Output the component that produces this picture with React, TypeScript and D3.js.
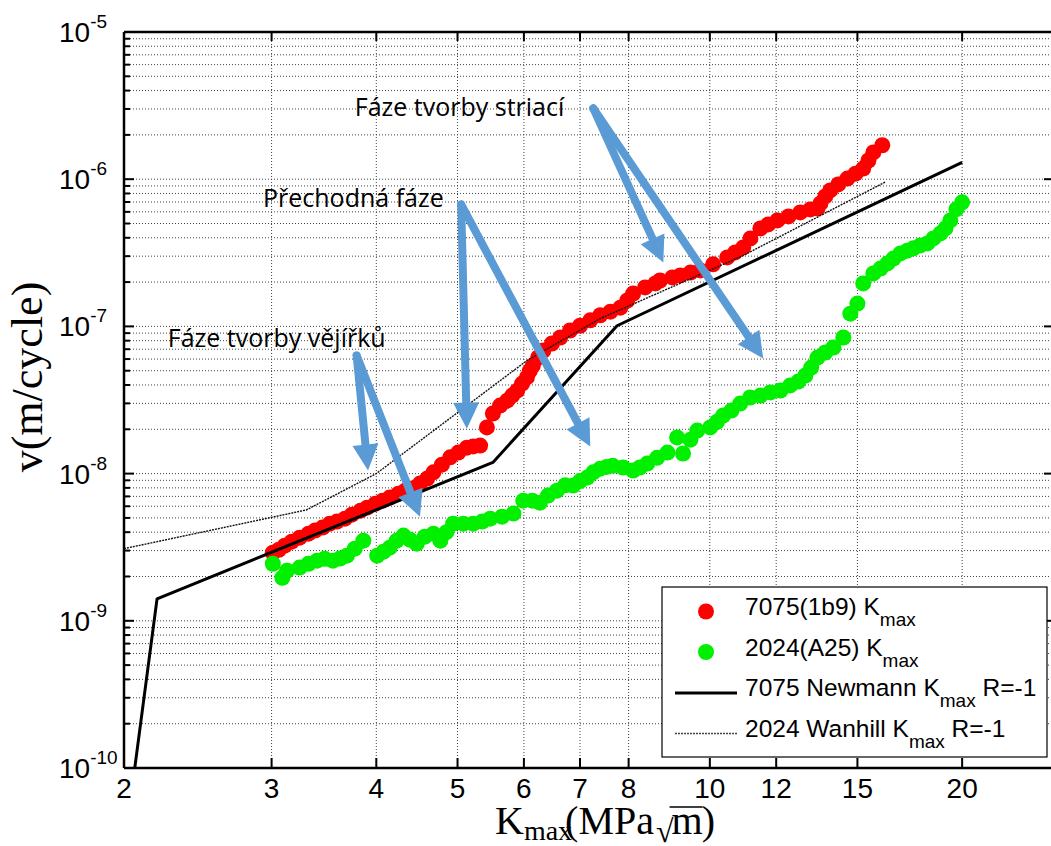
import React, { useEffect, useRef } from "react";
import * as d3 from "d3";

// 7075(1b9) Kmax measurements
const redK = [3.01, 3.06, 3.11, 3.17, 3.24, 3.32, 3.38, 3.45, 3.52, 3.59, 3.67, 3.74, 3.83, 3.9, 3.99, 4.07, 4.15, 4.25, 4.33, 4.41, 4.51, 4.6, 4.68, 4.79, 4.9, 5.01, 5.13, 5.22, 5.32,
  5.42, 5.51, 5.62, 5.73, 5.81, 5.89, 5.97, 6.05, 6.1, 6.15, 6.24, 6.33, 6.48, 6.63, 6.81, 7.0, 7.2, 7.4, 7.61, 7.82, 7.97, 8.1, 8.37, 8.61, 8.72, 9.02, 9.22, 9.48, 9.74, 10.09, 10.49, 10.72, 10.96,
  11.18, 11.49, 11.74, 12.04, 12.41, 12.82, 13.18, 13.44, 13.55, 13.73, 13.92, 14.23, 14.59, 14.92, 15.24, 15.46, 15.67, 16.06];
const redV = [2.9e-9, 3.04e-9, 3.24e-9, 3.45e-9, 3.67e-9, 3.91e-9, 4.1e-9, 4.3e-9, 4.57e-9, 4.72e-9, 4.94e-9, 5.26e-9, 5.6e-9, 5.87e-9, 6.25e-9, 6.55e-9, 6.87e-9, 7.31e-9, 7.66e-9, 7.91e-9, 8.55e-9, 9.25e-9, 1.02e-8, 1.15e-8, 1.29e-8, 1.39e-8, 1.5e-8, 1.53e-8, 1.55e-8,
  2.06e-8, 2.56e-8, 2.9e-8, 3.13e-8, 3.39e-8, 3.66e-8, 4.09e-8, 4.5e-8, 5.01e-8, 5.42e-8, 6.15e-8, 6.85e-8, 7.65e-8, 8.41e-8, 9.38e-8, 1.01e-7, 1.1e-7, 1.19e-7, 1.26e-7, 1.34e-7, 1.5e-7, 1.67e-7, 1.84e-7, 1.96e-7, 2.05e-7, 2.15e-7, 2.22e-7, 2.32e-7, 2.4e-7, 2.64e-7, 2.94e-7, 3.18e-7, 3.44e-7,
  3.96e-7, 4.63e-7, 4.93e-7, 5.25e-7, 5.59e-7, 5.95e-7, 6.23e-7, 6.33e-7, 6.85e-7, 7.64e-7, 8.39e-7, 9.22e-7, 1.01e-6, 1.09e-6, 1.18e-6, 1.34e-6, 1.52e-6, 1.7e-6];

// 2024(A25) Kmax measurements
const greenK = [3.01, 3.09, 3.13, 3.24, 3.32, 3.4, 3.47, 3.55, 3.62, 3.69, 3.77, 3.86, 4.01, 4.08, 4.15, 4.23, 4.31, 4.39, 4.47, 4.57, 4.68, 4.77, 4.85, 4.94, 5.08, 5.22, 5.35, 5.47, 5.65, 5.83, 5.99, 6.14, 6.27, 6.41, 6.57, 6.72, 6.87,
  7.0, 7.14, 7.26, 7.4, 7.53, 7.66, 7.88, 8.1, 8.25, 8.42, 8.65, 8.9, 9.14, 9.29, 9.48, 9.66, 10.01, 10.2, 10.37, 10.61, 10.87, 11.17, 11.49, 11.81, 12.14, 12.47, 12.75, 13.0, 13.21, 13.44, 13.73, 14.04, 14.43,
  14.71, 15.0, 15.24, 15.67, 15.98, 16.29, 16.56, 16.88, 17.2, 17.49, 17.83, 18.18, 18.48, 18.84, 19.1, 19.36, 19.69, 20.0];
const greenV = [2.44e-9, 1.96e-9, 2.19e-9, 2.3e-9, 2.44e-9, 2.56e-9, 2.64e-9, 2.56e-9, 2.65e-9, 2.77e-9, 3.09e-9, 3.5e-9, 2.77e-9, 2.95e-9, 3.14e-9, 3.5e-9, 3.79e-9, 3.55e-9, 3.34e-9, 3.73e-9, 3.91e-9, 3.5e-9, 4.0e-9, 4.57e-9, 4.57e-9, 4.57e-9, 4.72e-9, 4.94e-9, 5.1e-9, 5.35e-9, 6.55e-9, 6.55e-9, 6.35e-9, 7.09e-9, 7.66e-9, 8.32e-9, 8.29e-9,
  8.9e-9, 9.4e-9, 1.02e-8, 1.08e-8, 1.11e-8, 1.13e-8, 1.1e-8, 1.05e-8, 1.1e-8, 1.17e-8, 1.28e-8, 1.39e-8, 1.76e-8, 1.37e-8, 1.7e-8, 1.96e-8, 2.06e-8, 2.25e-8, 2.48e-8, 2.68e-8, 2.99e-8, 3.29e-8, 3.39e-8, 3.56e-8, 3.67e-8, 3.97e-8, 4.22e-8, 4.64e-8, 5.25e-8, 6.14e-8, 6.65e-8, 7.19e-8, 8.41e-8,
  1.22e-7, 1.43e-7, 1.96e-7, 2.29e-7, 2.47e-7, 2.68e-7, 2.89e-7, 3.13e-7, 3.27e-7, 3.39e-7, 3.55e-7, 3.66e-7, 3.96e-7, 4.28e-7, 4.63e-7, 5.25e-7, 6.26e-7, 6.96e-7];

// 7075 Newmann Kmax R=-1
const newmannK = [2.06, 2.19, 5.51, 7.75, 20];
const newmannV = [1e-10, 1.41e-9, 1.19e-8, 1.01e-7, 1.3e-6];

// 2024 Wanhill Kmax R=-1
const wanhillK = [2, 3.3, 4.0, 6.05, 7.4, 10.96, 16.19];
const wanhillV = [3.09e-9, 5.66e-9, 1.0e-8, 5.86e-8, 1.13e-7, 3.03e-7, 9.56e-7];

const xTicks = [3, 4, 5, 6, 7, 8, 10, 12, 15, 20];
const xTickLabels = ["3", "4", "5", "6", "7", "8", "10", "12", "15", "20"];
const yExponents = [-5, -6, -7, -8, -9, -10];

// phase annotations
const phaseLabels = ["Fáze tvorby vějířků", "Přechodná fáze", "Fáze tvorby striací"];
const phaseLabelK = [2.256, 2.93, 3.77];
const phaseLabelV = [7.19e-8, 6.43e-7, 2.67e-6];
const arrowFromK = [3.79, 5.05, 7.26];
const arrowFromV = [6.34e-8, 6.74e-7, 3.03e-6];
const arrowToK = [[3.91, 4.51], [5.13, 7.2], [8.8, 11.58]];
const arrowToV = [[1.05e-8, 5.1e-9], [2.02e-8, 1.53e-8], [2.72e-7, 6.05e-8]];

const W = 1051, H = 846;

function App() {
  const ref = useRef<SVGSVGElement>(null);

  useEffect(() => {
    const svg = d3.select(ref.current);
    svg.selectAll("*").remove();

    const left = 124, right = 1052, top = 32, bottom = 768;
    const x = d3.scaleLog().domain([2, 25.6]).range([left, right]);
    const y = d3.scaleLog().domain([1e-10, 1e-5]).range([bottom, top]);

    const g = svg.append("g");

    // grid
    const yGrid: number[] = [];
    for (let e = -10; e < -5; e++) {
      for (let m = 1; m <= 9; m++) yGrid.push(m * Math.pow(10, e));
    }
    g.selectAll(".hgrid").data(yGrid).enter().append("line")
      .attr("x1", left).attr("x2", right)
      .attr("y1", d => y(d)).attr("y2", d => y(d))
      .attr("stroke", "#444").attr("stroke-width", 1).attr("stroke-dasharray", "1,2");
    g.selectAll(".vgrid").data(xTicks).enter().append("line")
      .attr("x1", d => x(d)).attr("x2", d => x(d))
      .attr("y1", top).attr("y2", bottom)
      .attr("stroke", "#444").attr("stroke-width", 1).attr("stroke-dasharray", "1,2");

    // data dots
    g.selectAll(".red").data(redK).enter().append("circle")
      .attr("cx", d => x(d)).attr("cy", (d, i) => y(redV[i]))
      .attr("r", 8).attr("fill", "#ff0000");
    g.selectAll(".green").data(greenK).enter().append("circle")
      .attr("cx", d => x(d)).attr("cy", (d, i) => y(greenV[i]))
      .attr("r", 8).attr("fill", "#00f000");

    const line = d3.line<number>();
    g.append("path")
      .attr("d", line(newmannK.map((k, i) => [x(k), y(newmannV[i])]) as any))
      .attr("fill", "none").attr("stroke", "#000").attr("stroke-width", 3)
      .attr("stroke-linejoin", "round");
    g.append("path")
      .attr("d", line(wanhillK.map((k, i) => [x(k), y(wanhillV[i])]) as any))
      .attr("fill", "none").attr("stroke", "#111").attr("stroke-width", 1.4)
      .attr("stroke-dasharray", "2,1");

    // axes frame
    g.append("line").attr("x1", left).attr("x2", right).attr("y1", top).attr("y2", top)
      .attr("stroke", "#000").attr("stroke-width", 2.5);
    g.append("line").attr("x1", left).attr("x2", right).attr("y1", bottom).attr("y2", bottom)
      .attr("stroke", "#000").attr("stroke-width", 2.5);
    g.append("line").attr("x1", left).attr("x2", left).attr("y1", top).attr("y2", bottom)
      .attr("stroke", "#000").attr("stroke-width", 2.5);

    // y ticks
    g.selectAll(".ytick").data(yGrid.concat([1e-5])).enter().append("line")
      .attr("x1", left).attr("x2", d => left + (Math.abs(Math.log10(d) - Math.round(Math.log10(d))) < 1e-6 ? 10 : 6))
      .attr("y1", d => y(d)).attr("y2", d => y(d))
      .attr("stroke", "#000").attr("stroke-width", 2);
    g.selectAll(".ytickr").data(yExponents).enter().append("line")
      .attr("x1", right - 8).attr("x2", right)
      .attr("y1", d => y(Math.pow(10, d))).attr("y2", d => y(Math.pow(10, d)))
      .attr("stroke", "#000").attr("stroke-width", 2);

    // x ticks
    g.selectAll(".xtick").data(xTicks).enter().append("line")
      .attr("x1", d => x(d)).attr("x2", d => x(d))
      .attr("y1", bottom).attr("y2", bottom - 10)
      .attr("stroke", "#000").attr("stroke-width", 2);
    g.selectAll(".xtickt").data(xTicks).enter().append("line")
      .attr("x1", d => x(d)).attr("x2", d => x(d))
      .attr("y1", top).attr("y2", top + 9)
      .attr("stroke", "#000").attr("stroke-width", 2);

    // tick labels
    const sans = "'Liberation Sans', Arial, sans-serif";
    g.selectAll(".xlab").data(xTicks).enter().append("text")
      .attr("x", d => x(d)).attr("y", bottom + 30)
      .attr("text-anchor", "middle").attr("font-family", sans).attr("font-size", 28)
      .text((d, i) => xTickLabels[i]);
    g.append("text").attr("x", x(2)).attr("y", bottom + 30)
      .attr("text-anchor", "middle").attr("font-family", sans).attr("font-size", 28).text("2");

    const yl = g.selectAll(".ylab").data(yExponents).enter().append("text")
      .attr("x", 59).attr("y", d => y(Math.pow(10, d)) + 10)
      .attr("font-family", sans).attr("font-size", 28);
    yl.append("tspan").text("10");
    yl.append("tspan").attr("dy", -14).attr("font-size", 19).text(d => String(d));

    // axis titles
    const serif = "'Liberation Serif', 'Times New Roman', serif";
    g.append("text")
      .attr("transform", "translate(42,377) rotate(-90)")
      .attr("text-anchor", "middle").attr("font-family", serif).attr("font-size", 44)
      .text("v(m/cycle)");

    // x title: K_max(MPa √m) with a bar over m
    const base = 834;
    const xt = g.append("text").attr("x", 495).attr("y", base)
      .attr("font-family", serif).attr("font-size", 40);
    xt.append("tspan").text("K");
    xt.append("tspan").attr("font-size", 28).attr("dy", 6).text("max");
    xt.append("tspan").attr("dy", -6).attr("dx", -7).text("(MPa");
    xt.append("tspan").attr("dy", 8).attr("dx", 2).attr("font-size", 32).text("√");
    xt.append("tspan").attr("dy", -8).attr("dx", -2).text("m");
    xt.append("tspan").attr("dx", -1).text(")");
    const node = xt.node() as SVGTextElement;
    const mBox = node.getExtentOfChar(9);
    g.append("line").attr("x1", mBox.x - 2).attr("x2", mBox.x + mBox.width)
      .attr("y1", base - 27).attr("y2", base - 27)
      .attr("stroke", "#000").attr("stroke-width", 1.6);

    // annotations
    const blue = "#5b9bd5";
    const callout = "'Open Sans', 'Noto Sans', sans-serif";
    phaseLabels.forEach((label, i) => {
      g.append("text").attr("x", x(phaseLabelK[i])).attr("y", y(phaseLabelV[i]))
        .attr("font-family", callout).attr("font-size", 25).attr("fill", "#000")
        .text(label);
      const x0 = x(arrowFromK[i]), y0 = y(arrowFromV[i]);
      arrowToK[i].forEach((tk, j) => {
        const x1 = x(tk), y1 = y(arrowToV[i][j]);
        const dx = x1 - x0, dy = y1 - y0, len = Math.hypot(dx, dy);
        const ux = dx / len, uy = dy / len, nx = -uy, ny = ux;
        const hl = 26, hw = 13;
        const bx = x1 - ux * hl, by = y1 - uy * hl;
        g.append("line").attr("x1", x0).attr("y1", y0)
          .attr("x2", bx + ux * 4).attr("y2", by + uy * 4)
          .attr("stroke", blue).attr("stroke-width", 8).attr("stroke-linecap", "round");
        g.append("path")
          .attr("d", "M" + x1 + "," + y1 + "L" + (bx + nx * hw) + "," + (by + ny * hw) +
            "L" + (bx - nx * hw) + "," + (by - ny * hw) + "Z")
          .attr("fill", blue);
      });
    });

    // legend
    const lg = g.append("g");
    lg.append("rect").attr("x", 662).attr("y", 587).attr("width", 385).attr("height", 170)
      .attr("fill", "#fff").attr("stroke", "#000").attr("stroke-width", 1.2);
    const rows = [
      { main: "7075(1b9) K", tail: "" },
      { main: "2024(A25) K", tail: "" },
      { main: "7075 Newmann K", tail: " R=-1" },
      { main: "2024 Wanhill K", tail: " R=-1" },
    ];
    rows.forEach((r, i) => {
      const by = 615 + i * 40.6;
      const t = lg.append("text").attr("x", 745).attr("y", by)
        .attr("font-family", sans).attr("font-size", 24.5);
      t.append("tspan").text(r.main);
      t.append("tspan").attr("dy", 11).attr("font-size", 19).text("max");
      if (r.tail) t.append("tspan").attr("dy", -11).attr("font-size", 24.5).text(r.tail);
    });
    lg.append("circle").attr("cx", 706).attr("cy", 611.5).attr("r", 8).attr("fill", "#ff0000");
    lg.append("circle").attr("cx", 706).attr("cy", 652).attr("r", 8).attr("fill", "#00f000");
    lg.append("line").attr("x1", 675).attr("x2", 737).attr("y1", 693).attr("y2", 693)
      .attr("stroke", "#000").attr("stroke-width", 3);
    lg.append("line").attr("x1", 675).attr("x2", 737).attr("y1", 733.5).attr("y2", 733.5)
      .attr("stroke", "#444").attr("stroke-width", 1.3).attr("stroke-dasharray", "2,1");
  }, []);

  return (
    <svg ref={ref} width={W} height={H}
      style={{ position: "absolute", left: 0, top: 0, background: "#fff" }} />
  );
}

export default App;
